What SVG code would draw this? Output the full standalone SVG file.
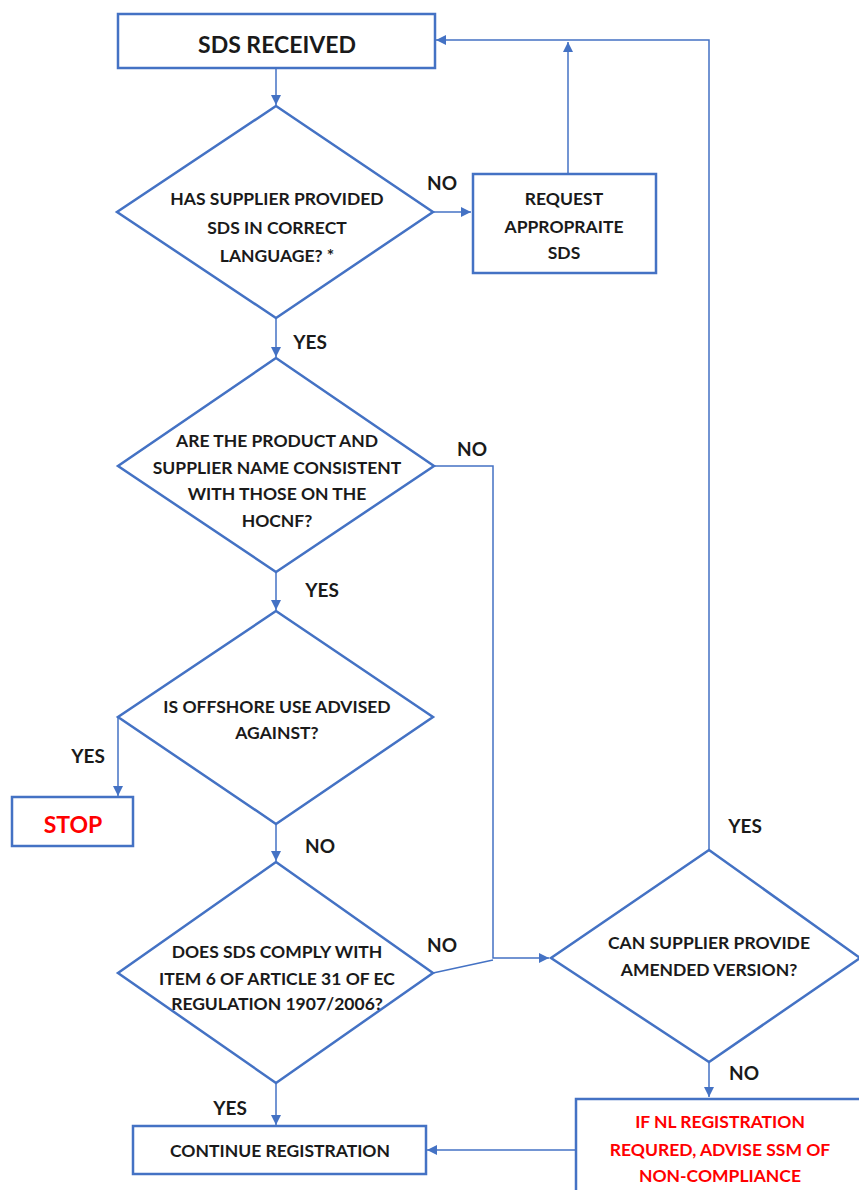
<svg xmlns="http://www.w3.org/2000/svg" width="859" height="1190" viewBox="0 0 859 1190">
<style>
.box{fill:#fff;stroke:#4472C4;stroke-width:2.5}
.dia{fill:#fff;stroke:#4472C4;stroke-width:2.5}
.ln{fill:none;stroke:#4472C4;stroke-width:1.5}
text{font-family:Lato,"Liberation Sans",sans-serif;font-weight:bold;font-size:17.5px;fill:#1a1a1a;text-anchor:middle}
.red{fill:#FF0000}
.lbl{font-size:19px}
</style>
<defs>
<marker id="ah" viewBox="0 0 10 10" refX="10" refY="5" markerWidth="10" markerHeight="10" markerUnits="userSpaceOnUse" orient="auto">
<path d="M0,0 L10,5 L0,10 Z" fill="#4472C4"/>
</marker>
</defs>
<g id="connectors">
<line class="ln" x1="276" y1="68" x2="276" y2="105" marker-end="url(#ah)"/>
<line class="ln" x1="433" y1="212" x2="471" y2="212" marker-end="url(#ah)"/>
<line class="ln" x1="568" y1="174" x2="568" y2="42" marker-end="url(#ah)"/>
<polyline class="ln" points="709,850 709,40 436,40" marker-end="url(#ah)"/>
<line class="ln" x1="276" y1="318" x2="276" y2="357" marker-end="url(#ah)"/>
<polyline class="ln" points="434,466 493,466 493,958 549,958" marker-end="url(#ah)"/>
<line class="ln" x1="433" y1="973" x2="493" y2="960"/>
<line class="ln" x1="276" y1="572" x2="276" y2="610" marker-end="url(#ah)"/>
<line class="ln" x1="118" y1="717" x2="118" y2="796" marker-end="url(#ah)"/>
<line class="ln" x1="276" y1="824" x2="276" y2="861" marker-end="url(#ah)"/>
<line class="ln" x1="276" y1="1083" x2="276" y2="1125" marker-end="url(#ah)"/>
<line class="ln" x1="709" y1="1062" x2="709" y2="1097" marker-end="url(#ah)"/>
<line class="ln" x1="576" y1="1150" x2="427" y2="1150" marker-end="url(#ah)"/>
<text class="lbl" x="442" y="190">NO</text>
<text class="lbl" x="310" y="349">YES</text>
<text class="lbl" x="472" y="456">NO</text>
<text class="lbl" x="322" y="597">YES</text>
<text class="lbl" x="88" y="763">YES</text>
<text class="lbl" x="320" y="853">NO</text>
<text class="lbl" x="442" y="952">NO</text>
<text class="lbl" x="230" y="1115">YES</text>
<text class="lbl" x="745" y="833">YES</text>
<text class="lbl" x="744" y="1080">NO</text>
</g>
<g id="sds-received">
<rect class="box" x="118" y="14" width="317" height="54"/>
<text x="277" y="53" style="font-size:23px">SDS RECEIVED</text>
</g>
<g id="q-language">
<polygon class="dia" points="276,106 433,212 276,318 117,212"/>
<text x="277" y="205">HAS SUPPLIER PROVIDED</text>
<text x="277" y="234">SDS IN CORRECT</text>
<text x="277" y="262">LANGUAGE? *</text>
</g>
<g id="request-sds">
<rect class="box" x="473" y="174" width="183" height="99"/>
<text x="564" y="205">REQUEST</text>
<text x="564" y="233">APPROPRAITE</text>
<text x="564" y="259">SDS</text>
</g>
<g id="q-consistent">
<polygon class="dia" points="276,358 434,466 276,572 118,466"/>
<text x="277" y="447">ARE THE PRODUCT AND</text>
<text x="277" y="474">SUPPLIER NAME CONSISTENT</text>
<text x="277" y="500">WITH THOSE ON THE</text>
<text x="277" y="527">HOCNF?</text>
</g>
<g id="q-offshore">
<polygon class="dia" points="276,611 433,717 276,824 118,717"/>
<text x="277" y="713">IS OFFSHORE USE ADVISED</text>
<text x="277" y="739">AGAINST?</text>
</g>
<g id="stop">
<rect class="box" x="12" y="797" width="121" height="49"/>
<text class="red" x="73" y="833" style="font-size:23px">STOP</text>
</g>
<g id="q-comply">
<polygon class="dia" points="276,862 433,973 276,1083 118,973"/>
<text x="277" y="958">DOES SDS COMPLY WITH</text>
<text x="277" y="985">ITEM 6 OF ARTICLE 31 OF EC</text>
<text x="277" y="1010">REGULATION 1907/2006?</text>
</g>
<g id="continue">
<rect class="box" x="133" y="1126" width="293" height="48"/>
<text x="280" y="1157">CONTINUE REGISTRATION</text>
</g>
<g id="q-amended">
<polygon class="dia" points="709,850 860,958 709,1062 551,958"/>
<text x="709" y="949">CAN SUPPLIER PROVIDE</text>
<text x="709" y="976">AMENDED VERSION?</text>
</g>
<g id="non-compliance">
<rect class="box" x="576" y="1099" width="290" height="100"/>
<text class="red" x="720" y="1128">IF NL REGISTRATION</text>
<text class="red" x="720" y="1156">REQURED, ADVISE SSM OF</text>
<text class="red" x="720" y="1182">NON-COMPLIANCE</text>
</g>
</svg>
